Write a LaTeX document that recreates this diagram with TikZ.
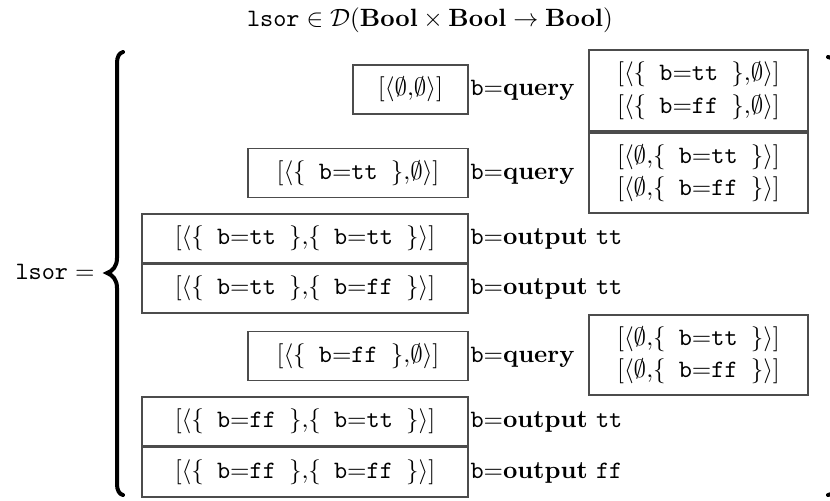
\documentclass[tikz,border=0pt]{standalone}
\usepackage{amssymb}
\usepackage{amsmath}

\begin{document}
\begin{tikzpicture}[x=0.4pt,y=-0.4pt]
	\tikzstyle{every node}+=[inner sep=0pt]
	\tikzstyle{cell}=[draw=black!70, line width=0.5pt, minimum height=19.6pt]
	\tikzstyle{pairbox}=[cell, minimum width=87.6pt, minimum height=32.4pt, align=center]
	\tikzstyle{tag}=[anchor=base west]
	\tikzstyle{bracepen}=[line width=1.6pt, line cap=round]
	\useasboundingbox (0,0) rectangle (830,500);
	\node (title) at (430,20) {$\texttt{lsor}\in\mathcal{D}(\mathbf{Bool}\times\mathbf{Bool}\to\mathbf{Bool})$};
	\node (lhs) at (55,272) {$\texttt{lsor}=$};
	\draw [bracepen] (123,52) .. controls (119,53) and (117,57) .. (117,63) -- (117,258) .. controls (117,266) and (113,271) .. (107,273) .. controls (113,275) and (117,280) .. (117,288) -- (117,484) .. controls (117,490) and (119,494) .. (123,495);
	\draw [bracepen] (828,57) .. controls (834,58) and (840,62) .. (841,70) -- (841,262) .. controls (841,270) and (845,275) .. (851,277) .. controls (845,279) and (841,284) .. (841,292) -- (841,482) .. controls (840,490) and (834,494) .. (828,495);
	\node[cell, minimum width=46pt] (q1) at (410.5,89.5) {$[\langle\emptyset{,}\emptyset\rangle]$};
	\node[tag] (t1) at (470,95.5) {\texttt{b}=\textbf{query}};
	\node[pairbox] (r1) at (698.5,90.5) {$[\langle\{\texttt{\ b}{=}\texttt{tt\ }\}{,}\emptyset\rangle]$\\[1pt]$[\langle\{\texttt{\ b}{=}\texttt{ff\ }\}{,}\emptyset\rangle]$};
	\node[cell, minimum width=88pt] (q2) at (358,173) {$[\langle\{\texttt{\ b}{=}\texttt{tt\ }\}{,}\emptyset\rangle]$};
	\node[tag] (t2) at (470,179) {\texttt{b}=\textbf{query}};
	\node[pairbox, minimum height=32pt] (r2) at (698.5,173) {$[\langle\emptyset{,}\{\texttt{\ b}{=}\texttt{tt\ }\}\rangle]$\\[1pt]$[\langle\emptyset{,}\{\texttt{\ b}{=}\texttt{ff\ }\}\rangle]$};
	\node[cell, minimum width=130.4pt] (o1) at (305,238.5) {$[\langle\{\texttt{\ b}{=}\texttt{tt\ }\}{,}\{\texttt{\ b}{=}\texttt{tt\ }\}\rangle]$};
	\node[tag] (t3) at (470,244.5) {\texttt{b}=\textbf{output} \texttt{tt}};
	\node[cell, minimum width=130.4pt] (o2) at (305,288.5) {$[\langle\{\texttt{\ b}{=}\texttt{tt\ }\}{,}\{\texttt{\ b}{=}\texttt{ff\ }\}\rangle]$};
	\node[tag] (t4) at (470,294.5) {\texttt{b}=\textbf{output} \texttt{tt}};
	\node[cell, minimum width=88pt] (q3) at (358,356) {$[\langle\{\texttt{\ b}{=}\texttt{ff\ }\}{,}\emptyset\rangle]$};
	\node[tag] (t5) at (470,362) {\texttt{b}=\textbf{query}};
	\node[pairbox, minimum height=32pt] (r3) at (698.5,355) {$[\langle\emptyset{,}\{\texttt{\ b}{=}\texttt{tt\ }\}\rangle]$\\[1pt]$[\langle\emptyset{,}\{\texttt{\ b}{=}\texttt{ff\ }\}\rangle]$};
	\node[cell, minimum width=130.4pt] (o3) at (305,421.5) {$[\langle\{\texttt{\ b}{=}\texttt{ff\ }\}{,}\{\texttt{\ b}{=}\texttt{tt\ }\}\rangle]$};
	\node[tag] (t6) at (470,427.5) {\texttt{b}=\textbf{output} \texttt{tt}};
	\node[cell, minimum width=130.4pt, minimum height=20pt] (o4) at (305,472) {$[\langle\{\texttt{\ b}{=}\texttt{ff\ }\}{,}\{\texttt{\ b}{=}\texttt{ff\ }\}\rangle]$};
	\node[tag] (t7) at (470,478) {\texttt{b}=\textbf{output} \texttt{ff}};
\end{tikzpicture}
\end{document}
